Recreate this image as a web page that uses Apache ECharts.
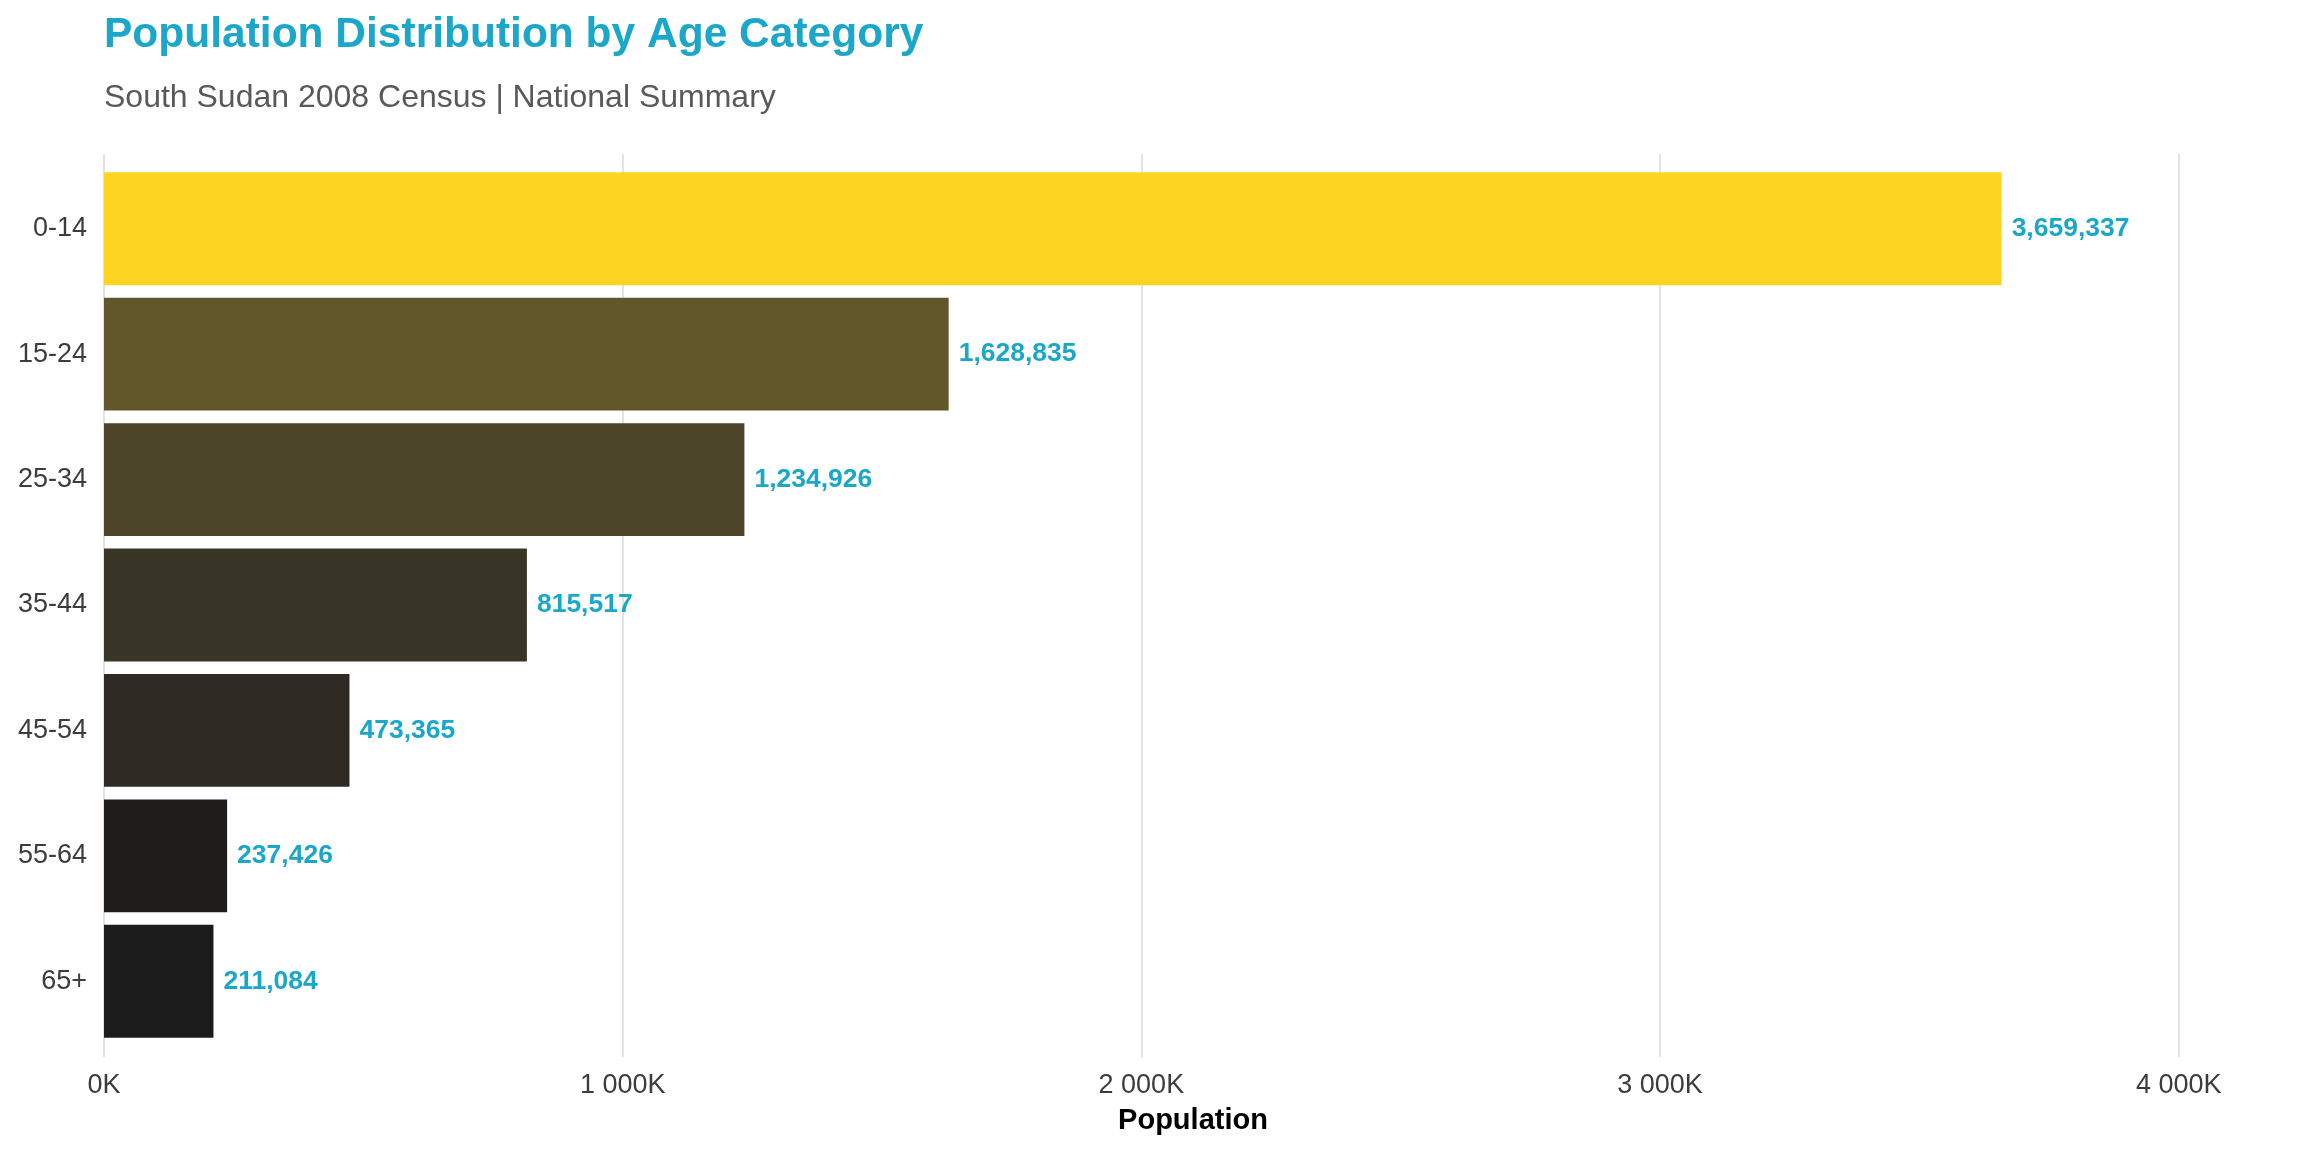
<!DOCTYPE html>
<html>
<head>
<meta charset="utf-8">
<script src="https://cdn.jsdelivr.net/npm/echarts@6/dist/echarts.min.js"></script>
<style>
html,body{margin:0;padding:0;background:#fff;}
#chart{width:2304px;height:1152px;}
</style>
</head>
<body>
<div id="chart"></div>
<script>
const categories = ['0-14', '15-24', '25-34', '35-44', '45-54', '55-64', '65+'];
const population = [3659337, 1628835, 1234926, 815517, 473365, 237426, 211084];
const barColors = ['#FED422', '#62562B', '#4B4429', '#393527', '#2E2A23', '#1F1D1B', '#1B1B1B'];
const xTickValues = [0, 1000000, 2000000, 3000000, 4000000];

const FONT = '"Liberation Sans", Arial, Helvetica, sans-serif';
const CYAN = '#1AA7CA';

function fmtK(v) {
  const k = Math.round(v / 1000);
  return String(k).replace(/\B(?=(\d{3})+(?!\d))/g, ' ') + 'K';
}
function fmtComma(v) {
  return String(v).replace(/\B(?=(\d{3})+(?!\d))/g, ',');
}

const chart = echarts.init(document.getElementById('chart'), null, {renderer: 'canvas'});
chart.setOption({
  backgroundColor: '#ffffff',
  animation: false,
  title: [
    {
      text: 'Population Distribution by Age Category',
      left: 104, top: 14, padding: 0,
      textStyle: {fontFamily: FONT, fontSize: 42.5, fontWeight: 'bold', color: CYAN}
    },
    {
      text: 'South Sudan 2008 Census | National Summary',
      left: 104, top: 82, padding: 0,
      textStyle: {fontFamily: FONT, fontSize: 32, fontWeight: 'normal', color: '#595959'}
    }
  ],
  grid: [
    {left: 104, right: 22, top: 166, bottom: 108, containLabel: false},
    {left: 104, right: 2304 - 2178.7, top: 154, bottom: 95, containLabel: false}
  ],
  xAxis: [
    {
      type: 'value', gridIndex: 0, min: 0, max: 4200000,
      axisLine: {show: false}, axisTick: {show: false},
      axisLabel: {show: false}, splitLine: {show: false},
      name: 'Population', nameLocation: 'middle', nameGap: 62,
      nameTextStyle: {fontFamily: FONT, fontSize: 29, fontWeight: 'bold', color: '#000000'}
    },
    {
      type: 'value', gridIndex: 1, min: xTickValues[0], max: xTickValues[xTickValues.length - 1],
      interval: xTickValues[1] - xTickValues[0],
      axisLine: {show: false}, axisTick: {show: false},
      axisLabel: {
        show: true, margin: 15, formatter: fmtK,
        fontFamily: FONT, fontSize: 27, color: '#3C3C3C'
      },
      splitLine: {show: true, lineStyle: {color: '#E3E3E3', width: 2}}
    }
  ],
  yAxis: [
    {
      type: 'category', gridIndex: 0, data: categories, inverse: true,
      axisLine: {show: false}, axisTick: {show: false}, splitLine: {show: false},
      axisLabel: {margin: 17, fontFamily: FONT, fontSize: 27, color: '#3C3C3C', padding: [4, 0, 0, 0]}
    },
    {
      type: 'value', gridIndex: 1, show: false, min: 0, max: 1
    }
  ],
  series: [
    {
      type: 'bar',
      xAxisIndex: 0, yAxisIndex: 0,
      data: population.map((v, i) => ({value: v, itemStyle: {color: barColors[i]}})),
      barCategoryGap: '10%',
      label: {
        show: true, position: 'right', distance: 10,
        formatter: p => fmtComma(p.value),
        fontFamily: FONT, fontSize: 26.5, fontWeight: 'bold', color: CYAN,
        padding: [4, 0, 0, 0]
      }
    }
  ]
});
</script>
</body>
</html>
